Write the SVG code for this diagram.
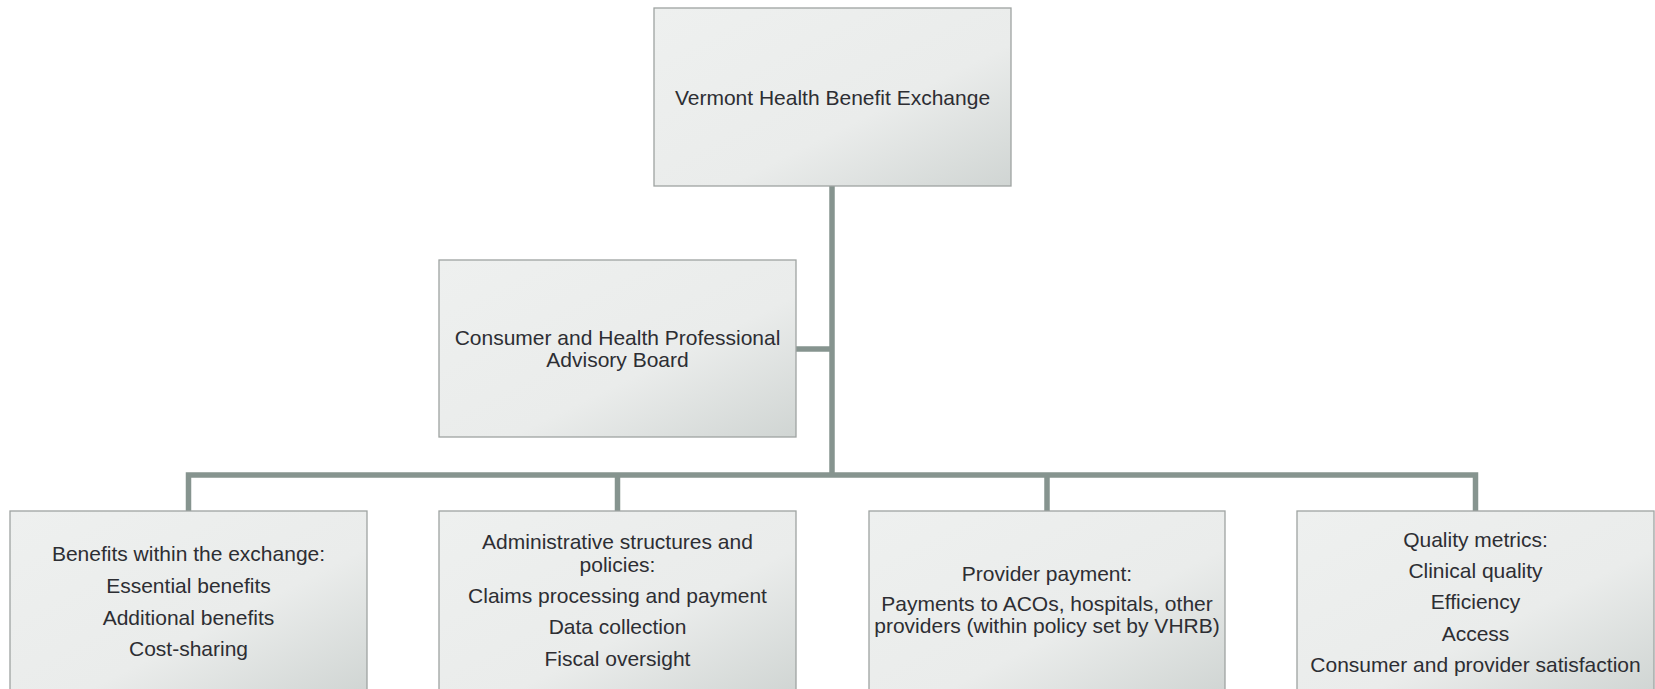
<svg xmlns="http://www.w3.org/2000/svg" width="1655" height="689" viewBox="0 0 1655 689">
  <defs>
    <linearGradient id="boxfill" x1="0" y1="0" x2="1" y2="1">
      <stop offset="0" stop-color="#eef0ef"/>
      <stop offset="0.6" stop-color="#eaeceb"/>
      <stop offset="1" stop-color="#d0d5d3"/>
    </linearGradient>
  </defs>
  <style>
    .box { fill: url(#boxfill); stroke: #9ea3a1; stroke-width: 1.3; }
    .lbl { font-family: "Liberation Sans", Arial, sans-serif; font-size: 21px; fill: #2d2e33; text-anchor: middle; }
    .conn { fill: none; stroke: #86948f; stroke-width: 5.5; stroke-linejoin: miter; }
  </style>
  <rect width="1655" height="689" fill="#ffffff"/>

  <g id="connectors">
    <path class="conn" d="M832 186 V475"/>
    <path class="conn" d="M796 349 H832"/>
    <path class="conn" d="M188.5 511 V475 H1475.5 V511"/>
    <path class="conn" d="M617.5 475 V511"/>
    <path class="conn" d="M1047 475 V511"/>
  </g>

  <g id="node-exchange">
    <rect class="box" x="654" y="8" width="357" height="178"/>
    <text class="lbl" x="832.5" y="104.5">Vermont Health Benefit Exchange</text>
  </g>

  <g id="node-advisory">
    <rect class="box" x="439" y="260" width="357" height="177"/>
    <text class="lbl" x="617.5" y="344.5">Consumer and Health Professional</text>
    <text class="lbl" x="617.5" y="367">Advisory Board</text>
  </g>

  <g id="node-benefits">
    <rect class="box" x="10" y="511" width="357" height="182"/>
    <text class="lbl" x="188.5" y="561">Benefits within the exchange:</text>
    <text class="lbl" x="188.5" y="593">Essential benefits</text>
    <text class="lbl" x="188.5" y="625">Additional benefits</text>
    <text class="lbl" x="188.5" y="656">Cost-sharing</text>
  </g>

  <g id="node-admin">
    <rect class="box" x="439" y="511" width="357" height="182"/>
    <text class="lbl" x="617.5" y="549">Administrative structures and</text>
    <text class="lbl" x="617.5" y="571.5">policies:</text>
    <text class="lbl" x="617.5" y="602.5">Claims processing and payment</text>
    <text class="lbl" x="617.5" y="634">Data collection</text>
    <text class="lbl" x="617.5" y="665.5">Fiscal oversight</text>
  </g>

  <g id="node-provider">
    <rect class="box" x="869" y="511" width="356" height="182"/>
    <text class="lbl" x="1047" y="580.5">Provider payment:</text>
    <text class="lbl" x="1047" y="610.5">Payments to ACOs, hospitals, other</text>
    <text class="lbl" x="1047" y="633">providers (within policy set by VHRB)</text>
  </g>

  <g id="node-quality">
    <rect class="box" x="1297" y="511" width="357" height="182"/>
    <text class="lbl" x="1475.5" y="546.5">Quality metrics:</text>
    <text class="lbl" x="1475.5" y="577.5">Clinical quality</text>
    <text class="lbl" x="1475.5" y="609">Efficiency</text>
    <text class="lbl" x="1475.5" y="640.5">Access</text>
    <text class="lbl" x="1475.5" y="672">Consumer and provider satisfaction</text>
  </g>
</svg>
